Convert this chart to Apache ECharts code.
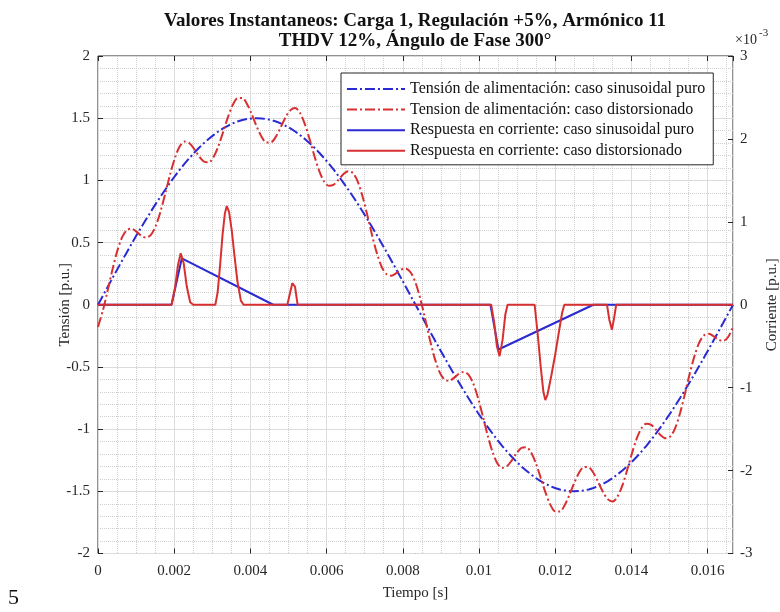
<!DOCTYPE html>
<html>
<head>
<meta charset="utf-8">
<script src="https://cdn.jsdelivr.net/npm/echarts@6/dist/echarts.min.js"></script>
<style>
  html, body { margin: 0; padding: 0; background: #fff; }
  #chart { width: 780px; height: 612px; }
</style>
</head>
<body>
<div id="chart"></div>
<script>
// tiempo en ms (1/60 s dividido en 132 muestras)
const timeMs = [
  0, 0.126, 0.253, 0.379, 0.505, 0.631, 0.758, 0.884, 1.010, 1.136, 1.263, 1.389, 1.515, 1.641, 1.768, 1.894,
  2.020, 2.146, 2.273, 2.399, 2.525, 2.652, 2.778, 2.904, 3.030, 3.157, 3.283, 3.409, 3.535, 3.662, 3.788, 3.914,
  4.040, 4.167, 4.293, 4.419, 4.545, 4.672, 4.798, 4.924, 5.051, 5.177, 5.303, 5.429, 5.556, 5.682, 5.808, 5.934,
  6.061, 6.187, 6.313, 6.439, 6.566, 6.692, 6.818, 6.944, 7.071, 7.197, 7.323, 7.449, 7.576, 7.702, 7.828, 7.955,
  8.081, 8.207, 8.333, 8.460, 8.586, 8.712, 8.838, 8.965, 9.091, 9.217, 9.343, 9.470, 9.596, 9.722, 9.848, 9.975,
  10.101, 10.227, 10.354, 10.480, 10.606, 10.732, 10.859, 10.985, 11.111, 11.237, 11.364, 11.490, 11.616, 11.742,
  11.869, 11.995, 12.121, 12.247, 12.374, 12.500, 12.626, 12.753, 12.879, 13.005, 13.131, 13.258, 13.384, 13.510,
  13.636, 13.763, 13.889, 14.015, 14.141, 14.268, 14.394, 14.520, 14.646, 14.773, 14.899, 15.025, 15.152, 15.278,
  15.404, 15.530, 15.657, 15.783, 15.909, 16.035, 16.162, 16.288, 16.414, 16.540, 16.667
];

// tensión de alimentación, caso sinusoidal puro [p.u.]
const vSinusoidal = [
  0, 0.071, 0.143, 0.214, 0.284, 0.354, 0.423, 0.491, 0.558, 0.623, 0.687, 0.75, 0.811, 0.870, 0.927, 0.982,
  1.035, 1.086, 1.134, 1.179, 1.222, 1.262, 1.299, 1.333, 1.364, 1.393, 1.418, 1.439, 1.458, 1.473, 1.485, 1.493,
  1.498, 1.5, 1.498, 1.493, 1.485, 1.473, 1.458, 1.439, 1.418, 1.393, 1.364, 1.333, 1.299, 1.262, 1.222, 1.179,
  1.134, 1.086, 1.035, 0.982, 0.927, 0.870, 0.811, 0.75, 0.687, 0.623, 0.558, 0.491, 0.423, 0.354, 0.284, 0.214,
  0.143, 0.071, 0,
  -0.071, -0.143, -0.214, -0.284, -0.354, -0.423, -0.491, -0.558, -0.623, -0.687, -0.75, -0.811, -0.870, -0.927,
  -0.982, -1.035, -1.086, -1.134, -1.179, -1.222, -1.262, -1.299, -1.333, -1.364, -1.393, -1.418, -1.439, -1.458,
  -1.473, -1.485, -1.493, -1.498, -1.5, -1.498, -1.493, -1.485, -1.473, -1.458, -1.439, -1.418, -1.393, -1.364,
  -1.333, -1.299, -1.262, -1.222, -1.179, -1.134, -1.086, -1.035, -0.982, -0.927, -0.870, -0.811, -0.75, -0.687,
  -0.623, -0.558, -0.491, -0.423, -0.354, -0.284, -0.214, -0.143, -0.071, 0
];

// tensión de alimentación, caso distorsionado [p.u.]
const vDistorted = [
  -0.178, -0.049, 0.113, 0.282, 0.431, 0.542, 0.601, 0.611, 0.588, 0.555, 0.540, 0.562, 0.633, 0.750, 0.897, 1.050,
  1.182, 1.274, 1.312, 1.299, 1.252, 1.194, 1.152, 1.145, 1.186, 1.273, 1.388, 1.507, 1.605, 1.661, 1.663, 1.613,
  1.528, 1.432, 1.351, 1.305, 1.307, 1.353, 1.428, 1.507, 1.565, 1.581, 1.542, 1.453, 1.329, 1.194, 1.075, 0.991,
  0.956, 0.966, 1.005, 1.050, 1.074, 1.058, 0.989, 0.870, 0.717, 0.555, 0.411, 0.303, 0.245, 0.234, 0.254, 0.282,
  0.290, 0.259, 0.178,
  0.049, -0.113, -0.282, -0.431, -0.542, -0.601, -0.611, -0.588, -0.555, -0.540, -0.562, -0.633, -0.750, -0.897,
  -1.050, -1.182, -1.274, -1.312, -1.299, -1.252, -1.194, -1.152, -1.145, -1.186, -1.273, -1.388, -1.507, -1.605,
  -1.661, -1.663, -1.613, -1.528, -1.432, -1.351, -1.305, -1.307, -1.353, -1.428, -1.507, -1.565, -1.581, -1.542,
  -1.453, -1.329, -1.194, -1.075, -0.991, -0.956, -0.966, -1.005, -1.050, -1.074, -1.058, -0.989, -0.870, -0.717,
  -0.555, -0.411, -0.303, -0.245, -0.234, -0.254, -0.282, -0.290, -0.259, -0.178
];

// respuesta en corriente, caso sinusoidal puro (x10^-3)
const iSinTime = [0, 1.93, 2.2, 4.6, 10.3, 10.51, 13.0, 16.667];
const iSinValue = [0, 0, 0.56, 0, 0, -0.54, 0, 0];

// respuesta en corriente, caso distorsionado (x10^-3)
const iDistTime = [
  0, 1.93, 2.02, 2.1, 2.17, 2.25, 2.33, 2.42, 2.5,
  3.08, 3.14, 3.2, 3.27, 3.33, 3.38, 3.44, 3.51, 3.58, 3.66, 3.75, 3.82,
  4.97, 5.03, 5.1, 5.17, 5.24,
  10.32, 10.4, 10.47, 10.54, 10.62, 10.69, 10.75,
  11.46, 11.54, 11.62, 11.69, 11.74, 11.8, 11.9, 12.0, 12.1, 12.18, 12.24,
  13.36, 13.42, 13.49, 13.55, 13.6, 16.667
];
const iDistValue = [
  0, 0, 0.2, 0.48, 0.62, 0.5, 0.22, 0.03, 0,
  0, 0.15, 0.45, 0.85, 1.1, 1.19, 1.12, 0.9, 0.6, 0.28, 0.05, 0,
  0, 0.12, 0.26, 0.22, 0,
  0, -0.22, -0.5, -0.62, -0.42, -0.12, 0,
  0, -0.35, -0.75, -1.05, -1.15, -1.08, -0.85, -0.6, -0.32, -0.1, 0,
  0, -0.18, -0.3, -0.15, 0, 0
];

const seriesNames = [
  'Tensión de alimentación: caso sinusoidal puro',
  'Tension de alimentación: caso distorsionado',
  'Respuesta en corriente: caso sinusoidal puro',
  'Respuesta en corriente: caso distorsionado'
];

const SERIF = '"Liberation Serif", "Times New Roman", serif';
const INK = '#262626';
const BLUE = '#2a2ad2';
const RED = '#d83030';
const DASH_DOT = [10, 3, 2, 3];

const pairs = (xs, ys) => xs.map((x, i) => [x, ys[i]]);

const chart = echarts.init(document.getElementById('chart'));

const axisTick = { show: true, inside: true, length: 5, lineStyle: { color: INK } };
const labelStyle = { color: INK, fontSize: 15, fontFamily: SERIF };
const nameStyle = { color: INK, fontSize: 15, fontFamily: SERIF };
const noLine = { show: false, onZero: false };

const option = {
  animation: false,
  backgroundColor: '#fff',
  grid: {
    left: 98, right: 47, top: 56, bottom: 58.5,
    outerBoundsMode: 'none',
    show: true, borderColor: INK, borderWidth: 1, backgroundColor: '#fff'
  },
  legend: {
    orient: 'vertical',
    left: 341, top: 73,
    padding: [7, 8, 5, 5],
    itemWidth: 58, itemHeight: 14, itemGap: 2.6,
    borderColor: INK, borderWidth: 1, backgroundColor: '#fff',
    itemStyle: { opacity: 0 },
    textStyle: { color: '#111', fontSize: 16, lineHeight: 18, fontFamily: SERIF },
    data: seriesNames
  },
  xAxis: [
    {
      type: 'value', min: 0, max: 16.6667, interval: 2, position: 'bottom',
      axisLine: noLine,
      axisTick,
      axisLabel: {
        ...labelStyle, margin: 10, showMaxLabel: false,
        formatter: v => String(+(v / 1000).toFixed(4))
      },
      splitLine: { show: true, lineStyle: { color: '#dcdcdc', width: 1 } },
      minorTick: { show: false, splitNumber: 4 },
      minorSplitLine: { show: true, lineStyle: { color: '#cfcfcf', width: 1, type: 'dotted' } },
      name: 'Tiempo [s]', nameLocation: 'middle', nameGap: 32, nameMoveOverlap: false,
      nameTextStyle: nameStyle
    },
    {
      type: 'value', min: 0, max: 16.6667, interval: 2, position: 'top',
      axisLine: noLine, axisTick,
      axisLabel: { show: false }, splitLine: { show: false }
    }
  ],
  yAxis: [
    {
      type: 'value', min: -2, max: 2, interval: 0.5, position: 'left',
      axisLine: noLine, axisTick,
      axisLabel: { ...labelStyle, margin: 8 },
      splitLine: { show: true, lineStyle: { color: '#dcdcdc', width: 1 } },
      minorTick: { show: false, splitNumber: 5 },
      minorSplitLine: { show: true, lineStyle: { color: '#cfcfcf', width: 1, type: 'dotted' } },
      name: 'Tensión [p.u.]', nameLocation: 'middle', nameGap: 25, nameRotate: 90,
      nameMoveOverlap: false, nameTextStyle: nameStyle
    },
    {
      type: 'value', min: -3, max: 3, interval: 1, position: 'right',
      axisLine: noLine, axisTick,
      axisLabel: { ...labelStyle, margin: 7 },
      splitLine: { show: false },
      name: 'Corriente [p.u.]', nameLocation: 'middle', nameGap: 32, nameRotate: 90,
      nameMoveOverlap: false, nameTextStyle: nameStyle
    }
  ],
  graphic: [
    {
      type: 'text', x: 415, y: 21,
      style: {
        text: 'Valores Instantaneos: Carga 1, Regulación +5%, Armónico 11',
        font: 'bold 19px ' + SERIF, fill: '#111', align: 'center', verticalAlign: 'middle'
      }
    },
    {
      type: 'text', x: 415, y: 41,
      style: {
        text: 'THDV 12%, Ángulo de Fase 300°',
        font: 'bold 19px ' + SERIF, fill: '#111', align: 'center', verticalAlign: 'middle'
      }
    },
    {
      type: 'text', x: 735, y: 40,
      style: { text: '×10', font: '14px ' + SERIF, fill: INK, align: 'left', verticalAlign: 'middle' }
    },
    {
      type: 'text', x: 759, y: 33,
      style: { text: '-3', font: '11px ' + SERIF, fill: INK, align: 'left', verticalAlign: 'middle' }
    },
    {
      type: 'text', x: 8, y: 598,
      style: { text: '5', font: '22px ' + SERIF, fill: '#111', align: 'left', verticalAlign: 'middle' }
    }
  ],
  series: [
    {
      name: seriesNames[0], type: 'line', xAxisIndex: 0, yAxisIndex: 0,
      data: pairs(timeMs, vSinusoidal), symbol: 'none',
      lineStyle: { color: BLUE, width: 2, type: DASH_DOT }, itemStyle: { color: BLUE }
    },
    {
      name: seriesNames[1], type: 'line', xAxisIndex: 0, yAxisIndex: 0,
      data: pairs(timeMs, vDistorted), symbol: 'none', smooth: 0.3,
      lineStyle: { color: RED, width: 2, type: DASH_DOT }, itemStyle: { color: RED }
    },
    {
      name: seriesNames[2], type: 'line', xAxisIndex: 0, yAxisIndex: 1,
      data: pairs(iSinTime, iSinValue), symbol: 'none',
      lineStyle: { color: BLUE, width: 2 }, itemStyle: { color: BLUE }
    },
    {
      name: seriesNames[3], type: 'line', xAxisIndex: 0, yAxisIndex: 1,
      data: pairs(iDistTime, iDistValue), symbol: 'none',
      lineStyle: { color: RED, width: 2 }, itemStyle: { color: RED }
    }
  ]
};

chart.setOption(option);
</script>
</body>
</html>
